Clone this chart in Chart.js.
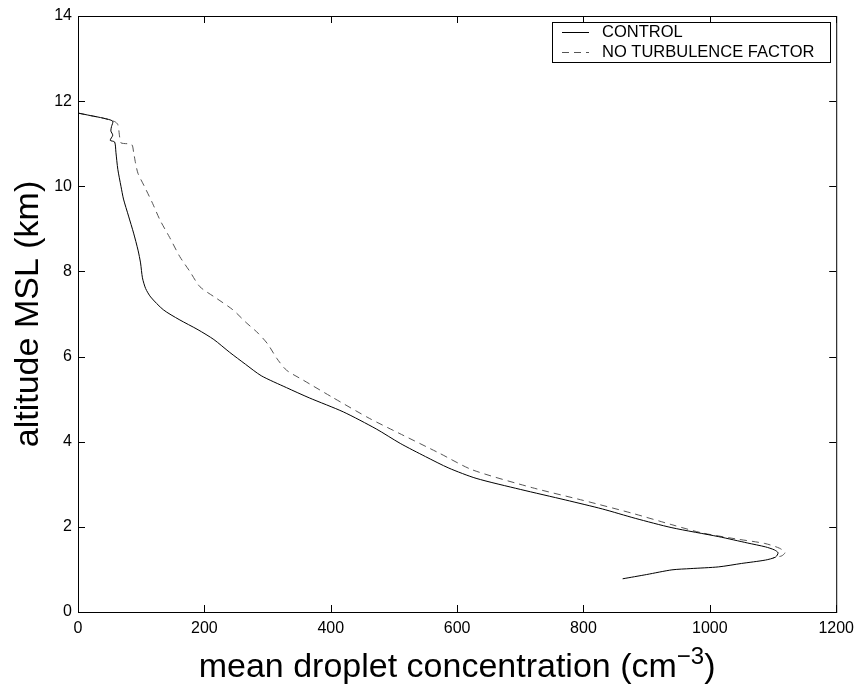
<!DOCTYPE html>
<html>
<head>
<meta charset="utf-8">
<script src="https://cdn.jsdelivr.net/npm/chart.js@4/dist/chart.umd.min.js"></script>
<style>
  html, body { margin: 0; padding: 0; background: #fff; }
  #wrap { width: 861px; height: 689px; }
</style>
</head>
<body>
<div id="wrap"><canvas id="chart" width="861" height="689"></canvas></div>
<script>
// --- data (x = droplets per cm3, y = altitude km) ---
const controlX = [0, 20, 40, 55, 53, 52, 55, 51, 58, 60, 63, 68, 72, 80, 88, 95, 99, 102, 107, 115, 135, 160, 190, 215, 240, 265, 290, 330, 366, 420, 472, 510, 550, 587, 630, 700, 772, 830, 882, 940, 1014, 1060, 1088, 1102, 1108, 1104, 1088, 1050, 1014, 970, 940, 900, 862];
const controlY = [11.72, 11.66, 11.6, 11.53, 11.4, 11.3, 11.2, 11.08, 11.04, 10.8, 10.4, 10.0, 9.7, 9.3, 8.9, 8.5, 8.2, 7.85, 7.6, 7.4, 7.1, 6.87, 6.63, 6.4, 6.1, 5.82, 5.55, 5.27, 5.03, 4.7, 4.3, 3.96, 3.65, 3.38, 3.14, 2.88, 2.63, 2.42, 2.2, 1.98, 1.77, 1.62, 1.53, 1.46, 1.39, 1.29, 1.22, 1.14, 1.06, 1.02, 0.99, 0.88, 0.78];

const noTurbX = [0, 20, 40, 58, 63, 66, 68, 85, 88, 91, 95, 105, 118, 130, 145, 161, 177, 193, 219, 245, 266, 285, 300, 315, 330, 356, 403, 461, 508, 572, 624, 719, 800, 877, 940, 987, 1040, 1087, 1110, 1119, 1114, 1100];
const noTurbY = [11.72, 11.66, 11.6, 11.52, 11.45, 11.15, 11.02, 10.98, 10.8, 10.55, 10.3, 10.0, 9.6, 9.2, 8.8, 8.35, 8.0, 7.64, 7.37, 7.1, 6.8, 6.55, 6.3, 5.95, 5.68, 5.45, 5.04, 4.55, 4.2, 3.73, 3.34, 2.92, 2.62, 2.32, 2.05, 1.86, 1.72, 1.61, 1.5, 1.4, 1.32, 1.27];

const seriesNames = ["CONTROL", "NO TURBULENCE FACTOR"];
const xTicks = [0, 200, 400, 600, 800, 1000, 1200];
const yTicks = [0, 2, 4, 6, 8, 10, 12, 14];

const FONT = "'Liberation Sans', Arial, Helvetica, sans-serif";

function pts(xs, ys) {
  return xs.map((x, i) => ({ x: x, y: ys[i] }));
}

// frame, inward ticks, legend box and axis titles (matlab look)
const matlabLook = {
  id: "matlabLook",
  afterDraw(chart) {
    const ctx = chart.ctx;
    const a = chart.chartArea;
    const sx = chart.scales.x, sy = chart.scales.y;
    const tl = 7;
    ctx.save();
    ctx.strokeStyle = "#000";
    ctx.lineWidth = 1;
    ctx.strokeRect(a.left + 0.5, a.top + 0.5, a.right - a.left, a.bottom - a.top);
    ctx.beginPath();
    xTicks.forEach(v => {
      const px = Math.round(sx.getPixelForValue(v)) + 0.5;
      ctx.moveTo(px, a.bottom); ctx.lineTo(px, a.bottom - tl);
      ctx.moveTo(px, a.top); ctx.lineTo(px, a.top + tl);
    });
    yTicks.forEach(v => {
      const py = Math.round(sy.getPixelForValue(v)) + 0.5;
      ctx.moveTo(a.left, py); ctx.lineTo(a.left + tl, py);
      ctx.moveTo(a.right, py); ctx.lineTo(a.right - tl, py);
    });
    ctx.stroke();

    // legend
    const lx = 552, ly = 22, lw = 278, lh = 40;
    ctx.fillStyle = "#fff";
    ctx.fillRect(lx, ly, lw, lh);
    ctx.strokeRect(lx + 0.5, ly + 0.5, lw, lh);
    ctx.font = "16.5px " + FONT;
    ctx.textBaseline = "middle";
    ctx.fillStyle = "#000";
    ctx.beginPath();
    ctx.moveTo(562, 32.5); ctx.lineTo(589, 32.5);
    ctx.stroke();
    ctx.strokeStyle = "#555";
    ctx.setLineDash([7, 5]);
    ctx.beginPath();
    ctx.moveTo(562, 52.5); ctx.lineTo(589, 52.5);
    ctx.stroke();
    ctx.setLineDash([]);
    ctx.textAlign = "left";
    ctx.fillText(seriesNames[0], 602, 32);
    ctx.fillText(seriesNames[1], 602, 52);

    // axis titles
    ctx.fillStyle = "#000";
    const big = "34px " + FONT, small = "24px " + FONT;
    ctx.font = big;
    ctx.textBaseline = "alphabetic";
    const main = "mean droplet concentration (cm";
    const sup = "\u22123";
    const tail = ")";
    const w1 = ctx.measureText(main).width;
    ctx.font = small;
    const w2 = ctx.measureText(sup).width;
    ctx.font = big;
    const w3 = ctx.measureText(tail).width;
    let x0 = (a.left + a.right) / 2 - (w1 + w2 + w3) / 2;
    const base = 677;
    ctx.textAlign = "left";
    ctx.fillText(main, x0, base);
    ctx.font = small;
    ctx.fillText(sup, x0 + w1, base - 13);
    ctx.font = big;
    ctx.fillText(tail, x0 + w1 + w2, base);

    ctx.translate(38, (a.top + a.bottom) / 2);
    ctx.rotate(-Math.PI / 2);
    ctx.textAlign = "center";
    ctx.fillText("altitude MSL (km)", 0, 0);
    ctx.restore();
  }
};

new Chart(document.getElementById("chart"), {
  type: "scatter",
  data: {
    datasets: [
      {
        label: seriesNames[0],
        data: pts(controlX, controlY),
        showLine: true,
        borderColor: "#000",
        borderWidth: 1,
        pointRadius: 0,
        tension: 0.25
      },
      {
        label: seriesNames[1],
        data: pts(noTurbX, noTurbY),
        showLine: true,
        borderColor: "#555",
        borderWidth: 1,
        borderDash: [7, 5],
        pointRadius: 0,
        tension: 0.25
      }
    ]
  },
  options: {
    responsive: false,
    animation: false,
    layout: { padding: { top: 16, right: 23, left: 0, bottom: 0 } },
    plugins: { legend: { display: false }, tooltip: { enabled: false } },
    scales: {
      x: {
        type: "linear",
        min: 0, max: 1200,
        afterBuildTicks: s => { s.ticks = xTicks.map(v => ({ value: v })); },
        afterFit: s => { s.height = 77; },
        grid: { display: false, drawTicks: false },
        border: { display: false },
        ticks: { color: "#000", padding: 7, maxRotation: 0, callback: v => String(v), font: { family: FONT, size: 16 } }
      },
      y: {
        type: "linear",
        min: 0, max: 14,
        afterBuildTicks: s => { s.ticks = yTicks.map(v => ({ value: v })); },
        afterFit: s => { s.width = 78; },
        grid: { display: false, drawTicks: false },
        border: { display: false },
        ticks: { color: "#000", padding: 6, callback: v => String(v), font: { family: FONT, size: 16 } }
      }
    }
  },
  plugins: [matlabLook]
});
</script>
</body>
</html>
